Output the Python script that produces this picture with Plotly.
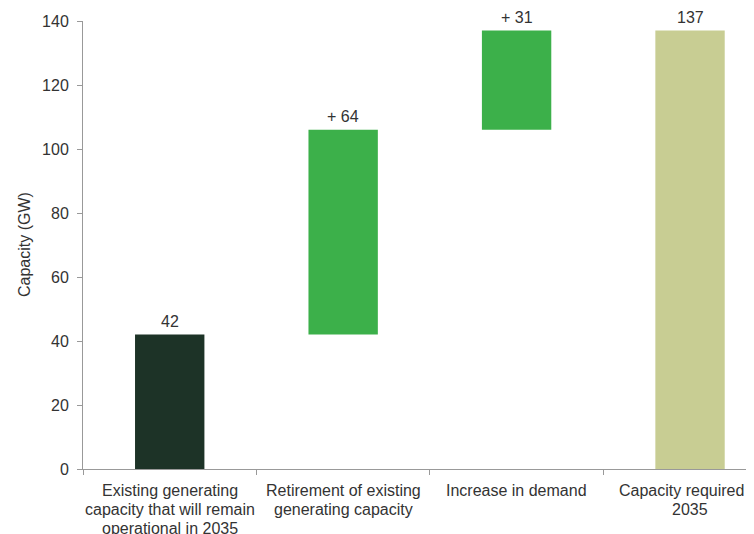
import plotly.graph_objects as go

categories = [
    "Existing generating<br>capacity that will remain<br>operational in 2035",
    "Retirement of existing<br>generating capacity",
    "Increase in demand",
    "Capacity required in<br>2035",
]
bases = [0, 42, 106, 0]
values = [42, 64, 31, 137]
value_labels = ["42", "+ 64", "+ 31", "137"]
colors = ["#1d3327", "#3cb04a", "#3cb04a", "#c8cd93"]
y_ticks = [0, 20, 40, 60, 80, 100, 120, 140]

FONT = "Liberation Sans, Arial, sans-serif"
TXT = "#333333"

fig = go.Figure()
fig.add_trace(go.Bar(
    x=categories, y=values, base=bases,
    marker=dict(color=colors, line=dict(width=0)),
    width=0.4, hoverinfo="skip",
))

# value labels above bars
for c, b, v, t in zip(categories, bases, values, value_labels):
    fig.add_annotation(x=c, y=b + v, text=t, showarrow=False, yanchor="bottom",
                       yshift=3, font=dict(family=FONT, size=16, color=TXT))

# category labels (line by line for tighter spacing)
for c in categories:
    for i, line in enumerate(c.split("<br>")):
        fig.add_annotation(x=c, y=0, yref="paper", text=line, showarrow=False,
                           yanchor="middle", yshift=-21 - 19 * i,
                           font=dict(family=FONT, size=16, color=TXT))

# y-axis title
fig.add_annotation(x=0, xref="paper", y=0.5, yref="paper", xshift=-59,
                   text="Capacity (GW)", textangle=-90, showarrow=False,
                   xanchor="center", yanchor="middle",
                   font=dict(family=FONT, size=16, color=TXT))

# page body has an 8px margin, so the figure is sized/offset to compensate
fig.update_layout(
    width=746, height=526,
    margin=dict(l=75, r=5, t=13, b=65),
    paper_bgcolor="white", plot_bgcolor="white",
    showlegend=False,
    font=dict(family=FONT, size=16, color=TXT),
    xaxis=dict(
        type="category", range=[-0.5, 3.34], automargin=False,
        showline=True, linecolor="#999999", linewidth=1,
        ticks="outside", tickson="boundaries", ticklen=5, tickcolor="#999999",
        showgrid=False, zeroline=False, showticklabels=False,
    ),
    yaxis=dict(
        range=[0, 140], tickvals=y_ticks, automargin=False,
        showline=True, linecolor="#999999", linewidth=1,
        ticks="outside", ticklen=5, tickcolor="#999999",
        ticklabelstandoff=5,
        showgrid=False, zeroline=False,
        tickfont=dict(family=FONT, size=16, color=TXT),
    ),
)

fig.write_html("out.html")
